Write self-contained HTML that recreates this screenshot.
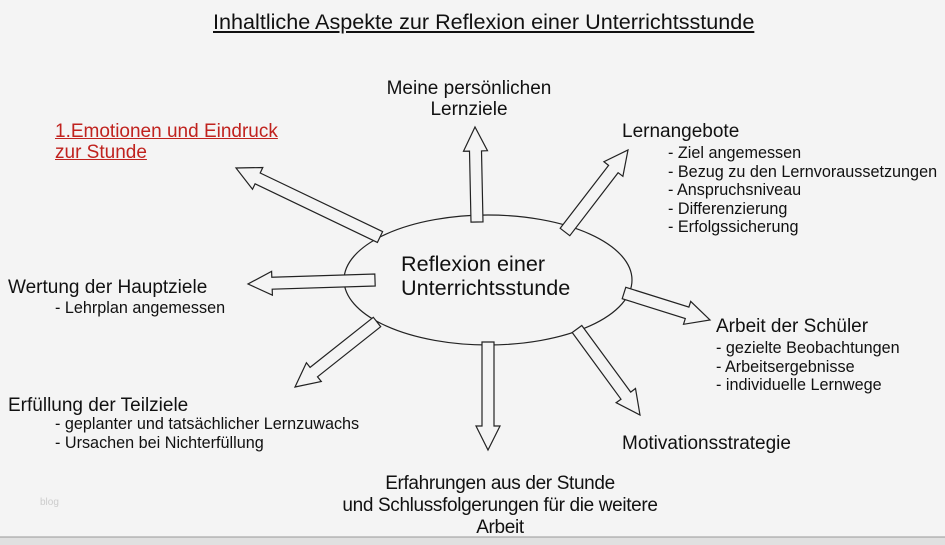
<!DOCTYPE html>
<html><head><meta charset="utf-8"><style>
body{margin:0;width:945px;height:545px;background:#f4f4f4;overflow:hidden;font-family:"Liberation Sans",sans-serif;}
svg{position:absolute;left:0;top:0}
.t{position:absolute;font-size:19px;color:#111;line-height:21px;white-space:nowrap}
.s{position:absolute;font-size:16.2px;color:#111;line-height:18.5px;white-space:nowrap}
</style></head><body>
<svg width="945" height="545" id="sv">
<rect x="0" y="537" width="945" height="8" fill="#e0e0e0"/>
<line x1="0" y1="537" x2="945" y2="537" stroke="#999"/>
<ellipse cx="488" cy="280" rx="144" ry="65" fill="#f4f4f4" stroke="#222" stroke-width="1.2"/>
</svg>
<div class="t" style="left:213px;top:10px;font-size:21.6px;line-height:24px;text-decoration:underline">Inhaltliche Aspekte zur Reflexion einer Unterrichtsstunde</div>
<div class="t" style="left:369px;top:78px;text-align:center;width:200px">Meine persönlichen<br>Lernziele</div>
<div class="t" style="left:55px;top:121px;color:#c0221e;text-decoration:underline">1.Emotionen und Eindruck<br>zur Stunde</div>
<div class="t" style="left:622px;top:121px">Lernangebote</div>
<div class="s" style="left:668px;top:144px">- Ziel angemessen<br>- Bezug zu den Lernvoraussetzungen<br>- Anspruchsniveau<br>- Differenzierung<br>- Erfolgssicherung</div>
<div class="t" style="left:401px;top:252px;font-size:21.6px;line-height:24px">Reflexion einer<br>Unterrichtsstunde</div>
<div class="t" style="left:8px;top:277px">Wertung der Hauptziele</div>
<div class="s" style="left:55px;top:299px">- Lehrplan angemessen</div>
<div class="t" style="left:716px;top:316px">Arbeit der Schüler</div>
<div class="s" style="left:716px;top:339px">- gezielte Beobachtungen<br>- Arbeitsergebnisse<br>- individuelle Lernwege</div>
<div class="t" style="left:8px;top:395px">Erfüllung der Teilziele</div>
<div class="s" style="left:55px;top:415px">- geplanter und tatsächlicher Lernzuwachs<br>- Ursachen bei Nichterfüllung</div>
<div class="t" style="left:622px;top:433px">Motivationsstrategie</div>
<div class="t" style="left:300px;top:473px;width:400px;text-align:center;line-height:22px;letter-spacing:-0.35px">Erfahrungen aus der Stunde<br>und Schlussfolgerungen für die weitere<br>Arbeit</div>
<div class="t" style="left:40px;top:492px;font-size:10px;color:#ccc">blog</div>
<script>
var sv=document.getElementById('sv');
var A=[[477,222,475,127],[565,232,628,150],[624,293,710,320],[577,329,640,415],[488,342,488,450],[377,322,295,387],[375,280,248,284],[380,237,236,168]];
A.forEach(function(a){
 var dx=a[2]-a[0],dy=a[3]-a[1],L=Math.hypot(dx,dy),ux=dx/L,uy=dy/L,nx=-uy,ny=ux;
 var w=6,hw=12,hl=24;
 function p(t,s){return (a[0]+ux*t+nx*s).toFixed(1)+','+(a[1]+uy*t+ny*s).toFixed(1);}
 var pts=[p(0,-w),p(L-hl,-w),p(L-hl,-hw),p(L,0),p(L-hl,hw),p(L-hl,w),p(0,w)].join(' ');
 var e=document.createElementNS('http://www.w3.org/2000/svg','polygon');
 e.setAttribute('points',pts);e.setAttribute('fill','#f4f4f4');e.setAttribute('stroke','#222');e.setAttribute('stroke-width','1.2');
 sv.appendChild(e);
});
</script>
</body></html>
